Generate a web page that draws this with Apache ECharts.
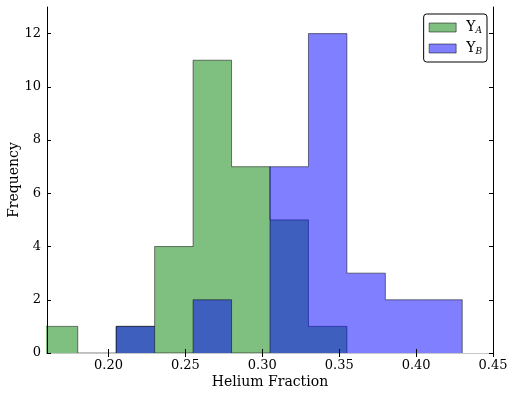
<!DOCTYPE html>
<html>
<head>
<meta charset="utf-8">
<script src="https://cdn.jsdelivr.net/npm/echarts@6/dist/echarts.min.js"></script>
<style>
html,body{margin:0;padding:0;background:#fff;}
#chart{width:516px;height:395px;}
</style>
</head>
<body>
<div id="chart"></div>
<script>
// Histogram bin edges and counts
const edgesA = [0.155, 0.18, 0.205, 0.23, 0.255, 0.28, 0.305, 0.33, 0.355];
const countsA = [1, 0, 1, 4, 11, 7, 5, 1];
const edgesB = [0.205, 0.23, 0.255, 0.28, 0.305, 0.33, 0.355, 0.38, 0.405, 0.43];
const countsB = [1, 0, 2, 0, 7, 12, 3, 2, 2];
const xTicks = [0.20, 0.25, 0.30, 0.35, 0.40, 0.45];
const yTicks = [0, 2, 4, 6, 8, 10, 12];
const seriesNames = ['Y_A', 'Y_B'];

function stepPoints(edges, counts) {
  const pts = [[edges[0], 0]];
  for (let i = 0; i < counts.length; i++) pts.push([edges[i], counts[i]]);
  pts.push([edges[edges.length - 1], 0]);
  return pts;
}

const FONT = 'DejaVu Serif';
const GREEN = 'rgba(0,128,0,0.5)';
const BLUE = 'rgba(0,0,255,0.5)';
const EDGE = 'rgba(0,0,0,0.5)';

const chart = echarts.init(document.getElementById('chart'), null, {renderer: 'canvas'});

const tickCommon = {show: true, inside: true, length: 4, lineStyle: {color: '#000', width: 1}};

chart.setOption({
  animation: false,
  backgroundColor: '#fff',
  grid: {left: 47, right: 23, top: 7, bottom: 42, containLabel: false, outerBoundsMode: 'none'},
  xAxis: [{
    type: 'value', min: 0.16, max: 0.45, position: 'bottom', z: 10,
    name: 'Helium Fraction', nameLocation: 'middle', nameGap: 22, nameMoveOverlap: false,
    nameTextStyle: {fontFamily: FONT, fontSize: 14, color: '#000'},
    axisLine: {show: true, lineStyle: {color: '#000', width: 1}},
    axisTick: Object.assign({customValues: xTicks}, tickCommon),
    axisLabel: {customValues: xTicks, fontFamily: FONT, fontSize: 13, color: '#000', margin: 6,
      formatter: v => v.toFixed(2)},
    splitLine: {show: false}
  }, {
    type: 'value', min: 0.16, max: 0.45, position: 'top', z: 10,
    axisLine: {show: true, lineStyle: {color: '#c8c8c8', width: 1}},
    axisTick: Object.assign({customValues: xTicks}, tickCommon),
    axisLabel: {show: false},
    splitLine: {show: false}
  }],
  yAxis: [{
    type: 'value', min: 0, max: 13, position: 'left', z: 10,
    name: 'Frequency', nameLocation: 'middle', nameGap: 26, nameMoveOverlap: false,
    nameTextStyle: {fontFamily: FONT, fontSize: 14, color: '#000'},
    axisLine: {show: true, lineStyle: {color: '#000', width: 1}},
    axisTick: Object.assign({customValues: yTicks}, tickCommon),
    axisLabel: {customValues: yTicks, fontFamily: FONT, fontSize: 13, color: '#000', margin: 6},
    splitLine: {show: false}
  }, {
    type: 'value', min: 0, max: 13, position: 'right', z: 10,
    axisLine: {show: true, lineStyle: {color: '#000', width: 1}},
    axisTick: Object.assign({customValues: yTicks}, tickCommon),
    axisLabel: {show: false},
    splitLine: {show: false}
  }],
  legend: {
    orient: 'vertical', right: 29, top: 14, z: 20,
    backgroundColor: '#fff', borderColor: '#000', borderWidth: 1, borderRadius: 3,
    padding: [6, 5, 6, 5], itemWidth: 27, itemHeight: 9, itemGap: 6,
    data: [
      {name: seriesNames[0], icon: 'rect', itemStyle: {color: GREEN, borderColor: EDGE, borderWidth: 1}},
      {name: seriesNames[1], icon: 'rect', itemStyle: {color: BLUE, borderColor: EDGE, borderWidth: 1}}
    ],
    formatter: n => '{y|Y}{s|' + n.split('_')[1] + '}',
    textStyle: {
      fontFamily: FONT, color: '#000', padding: [0, 0, 0, 5],
      rich: {
        y: {fontFamily: FONT, fontSize: 14, color: '#000', verticalAlign: 'top', lineHeight: 15},
        s: {fontFamily: FONT, fontSize: 9, fontStyle: 'italic', color: '#000', verticalAlign: 'bottom', lineHeight: 8}
      }
    }
  },
  series: [{
    name: seriesNames[0], type: 'line', step: 'end', xAxisIndex: 0, yAxisIndex: 0,
    data: stepPoints(edgesA, countsA), symbol: 'none', showSymbol: false, clip: true,
    color: GREEN, lineStyle: {color: EDGE, width: 1}, areaStyle: {color: GREEN, opacity: 1}, z: 2
  }, {
    name: seriesNames[1], type: 'line', step: 'end', xAxisIndex: 0, yAxisIndex: 0,
    data: stepPoints(edgesB, countsB), symbol: 'none', showSymbol: false, clip: true,
    color: BLUE, lineStyle: {color: EDGE, width: 1}, areaStyle: {color: BLUE, opacity: 1}, z: 3
  }]
});
</script>
</body>
</html>
